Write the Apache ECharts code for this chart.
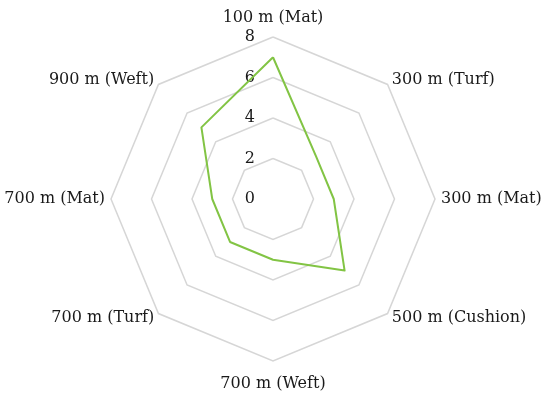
<!DOCTYPE html>
<html>
<head>
<meta charset="utf-8">
<script src="https://cdn.jsdelivr.net/npm/echarts@6/dist/echarts.min.js"></script>
<style>
html,body{margin:0;padding:0;background:#fff;}
#chart{width:550px;height:399px;}
</style>
</head>
<body>
<div id="chart"></div>
<script>
// Categories listed clockwise starting from the top
var categories = ['100 m (Mat)', '300 m (Turf)', '300 m (Mat)', '500 m (Cushion)', '700 m (Weft)', '700 m (Turf)', '700 m (Mat)', '900 m (Weft)'];
var values = [7, 3, 3, 5, 3, 3, 3, 5];
var ticks = [0, 2, 4, 6, 8];

// ECharts radar places indicators counterclockwise; reorder to draw clockwise
var order = [0];
for (var i = categories.length - 1; i >= 1; i--) order.push(i);

var axisMax = ticks[ticks.length - 1];
var indicator = order.map(function (k, j) {
  var ind = { name: categories[k], min: ticks[0], max: axisMax };
  if (j === 0) {
    ind.axisLabel = { show: true };
  }
  return ind;
});
var seriesValues = order.map(function (k) { return values[k]; });
var topName = categories[0];
var bottomName = categories[4];

var font = 'DejaVu Serif';
var chart = echarts.init(document.getElementById('chart'), null, { renderer: 'canvas' });
chart.setOption({
  animation: false,
  backgroundColor: '#ffffff',
  radar: {
    center: [273, 199],
    radius: 162,
    startAngle: 90,
    shape: 'polygon',
    splitNumber: ticks.length - 1,
    nameGap: 6,
    axisName: {
      color: '#1a1a1a',
      fontFamily: font,
      fontSize: 16,
      formatter: function (name) {
        if (name === topName) return '{t|' + name + '}';
        if (name === bottomName) return '{b|' + name + '}';
        return name;
      },
      rich: {
        t: { color: '#1a1a1a', fontFamily: font, fontSize: 16, padding: [0, 0, 5, 0] },
        b: { color: '#1a1a1a', fontFamily: font, fontSize: 16, padding: [9, 0, 0, 0] }
      }
    },
    indicator: indicator,
    axisLine: { show: false },
    axisTick: { show: false },
    splitArea: { show: false },
    splitLine: { lineStyle: { color: '#d6d6d6', width: 1.5 } },
    axisLabel: {
      show: false,
      color: '#1a1a1a',
      fontFamily: font,
      fontSize: 16,
      margin: 18
    }
  },
  series: [{
    type: 'radar',
    symbol: 'none',
    lineStyle: { color: '#82c444', width: 2 },
    data: [{ value: seriesValues }]
  }]
});
</script>
</body>
</html>
